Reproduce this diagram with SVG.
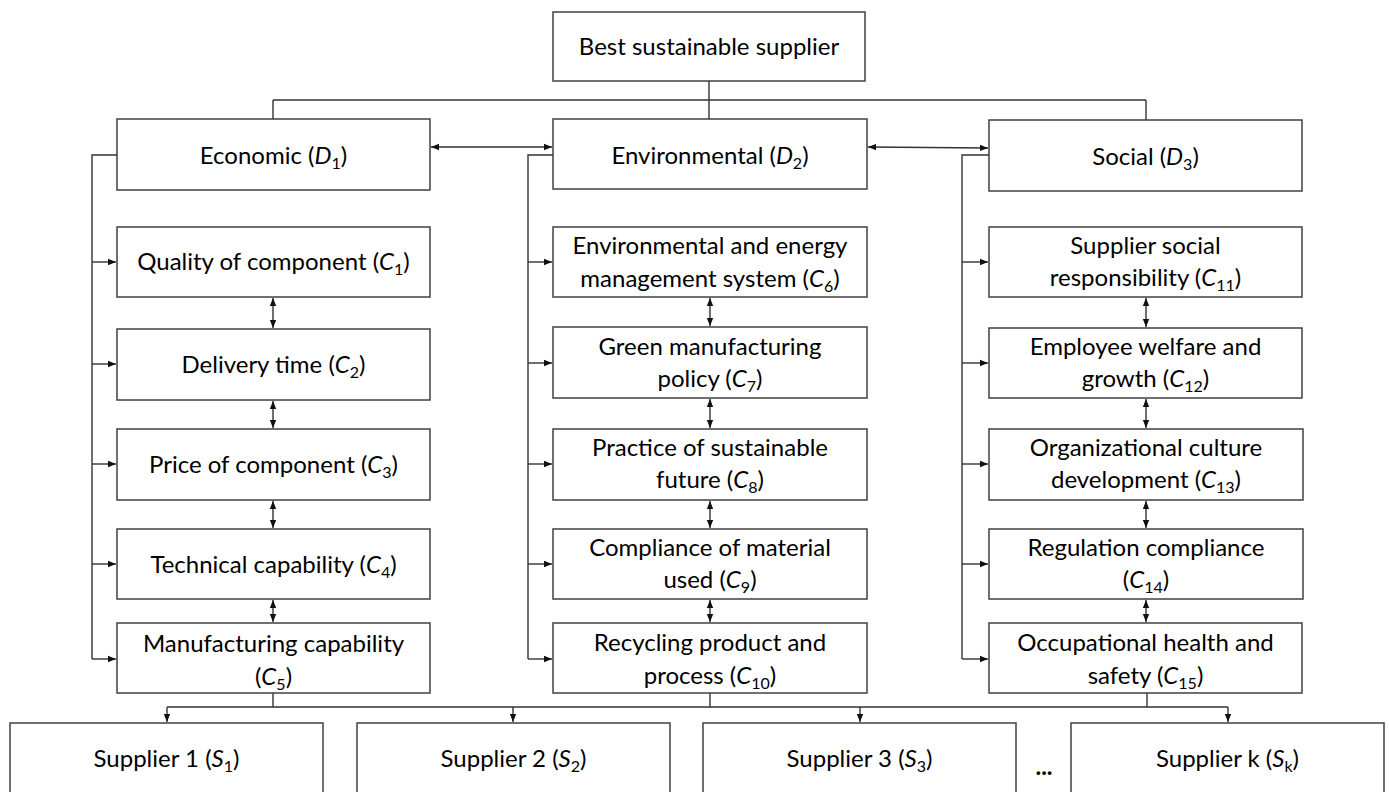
<svg xmlns="http://www.w3.org/2000/svg" width="1389" height="792" viewBox="0 0 1389 792">
<style>
.box{fill:#fff;stroke:#404040;stroke-width:1.5}
.t{font-family:Lato,"Open Sans","Liberation Sans",sans-serif;font-size:24px;fill:#000;text-anchor:middle}
.i{font-style:italic}
.s{font-size:16px}
.c{fill:none;stroke:#333;stroke-width:1.4}
.a{fill:none;stroke:#333;stroke-width:1.4;marker-end:url(#ah)}
.d{fill:none;stroke:#333;stroke-width:1.4;marker-start:url(#ah);marker-end:url(#ah)}
</style>
<defs>
<marker id="ah" viewBox="0 0 8 8" refX="8" refY="4" markerWidth="8" markerHeight="8" markerUnits="userSpaceOnUse" orient="auto-start-reverse">
<path d="M0,0.8 L8,4 L0,7.2 Z" fill="#111"/>
</marker>
</defs>
<rect width="1389" height="792" fill="#fff"/>

<g id="connectors">
<path class="c" d="M709,81 V100 M273,100 H1146 M273,100 V119 M709,100 V119 M1146,100 V120"/>
<line class="d" x1="431" y1="147" x2="552" y2="147"/>
<line class="d" x1="868" y1="147" x2="988" y2="148"/>
<path class="c" d="M117,155 H92 V659"/>
<path class="c" d="M553,155 H528 V659"/>
<path class="c" d="M989,155 H962 V659"/>
<line class="a" x1="92" y1="262" x2="116" y2="262"/>
<line class="a" x1="92" y1="364" x2="116" y2="364"/>
<line class="a" x1="92" y1="464" x2="116" y2="464"/>
<line class="a" x1="92" y1="564" x2="116" y2="564"/>
<line class="a" x1="92" y1="659" x2="116" y2="659"/>
<line class="a" x1="528" y1="262" x2="552" y2="262"/>
<line class="a" x1="528" y1="363" x2="552" y2="363"/>
<line class="a" x1="528" y1="464" x2="552" y2="464"/>
<line class="a" x1="528" y1="564" x2="552" y2="564"/>
<line class="a" x1="528" y1="659" x2="552" y2="659"/>
<line class="a" x1="962" y1="262" x2="988" y2="262"/>
<line class="a" x1="962" y1="363" x2="988" y2="363"/>
<line class="a" x1="962" y1="464" x2="988" y2="464"/>
<line class="a" x1="962" y1="564" x2="988" y2="564"/>
<line class="a" x1="962" y1="659" x2="988" y2="659"/>
<line class="d" x1="273" y1="298" x2="273" y2="328"/>
<line class="d" x1="273" y1="401" x2="273" y2="428"/>
<line class="d" x1="273" y1="501" x2="273" y2="528"/>
<line class="d" x1="273" y1="600" x2="273" y2="622"/>
<line class="d" x1="710" y1="298" x2="710" y2="326"/>
<line class="d" x1="710" y1="399" x2="710" y2="428"/>
<line class="d" x1="710" y1="501" x2="710" y2="528"/>
<line class="d" x1="710" y1="600" x2="710" y2="622"/>
<line class="d" x1="1146" y1="298" x2="1146" y2="327"/>
<line class="d" x1="1146" y1="399" x2="1146" y2="428"/>
<line class="d" x1="1146" y1="501" x2="1146" y2="528"/>
<line class="d" x1="1146" y1="600" x2="1146" y2="622"/>
<path class="c" d="M273,693 V707 M710,693 V707 M1147,693 V707 M167,707 H1228"/>
<line class="a" x1="167" y1="707" x2="167" y2="722"/>
<line class="a" x1="513" y1="707" x2="513" y2="722"/>
<line class="a" x1="860" y1="707" x2="860" y2="722"/>
<line class="a" x1="1228" y1="707" x2="1228" y2="722"/>
</g>

<g id="goal">
<rect class="box" x="553" y="12" width="312" height="69"/>
<text class="t" x="709" y="55">Best sustainable supplier</text>
</g>

<g id="D1">
<rect class="box" x="117" y="119" width="313" height="71"/>
<text class="t" x="273.5" y="164">Economic (<tspan class="i">D</tspan><tspan class="s" dy="5">1</tspan><tspan dy="-5">)</tspan></text>
</g>
<g id="D2">
<rect class="box" x="553" y="119" width="314" height="70"/>
<text class="t" x="710" y="164">Environmental (<tspan class="i">D</tspan><tspan class="s" dy="5">2</tspan><tspan dy="-5">)</tspan></text>
</g>
<g id="D3">
<rect class="box" x="989" y="120" width="313" height="71"/>
<text class="t" x="1145.5" y="165">Social (<tspan class="i">D</tspan><tspan class="s" dy="5">3</tspan><tspan dy="-5">)</tspan></text>
</g>

<g id="C1">
<rect class="box" x="117" y="227" width="313" height="70"/>
<text class="t" x="273.5" y="270">Quality of component (<tspan class="i">C</tspan><tspan class="s" dy="5">1</tspan><tspan dy="-5">)</tspan></text>
</g>
<g id="C2">
<rect class="box" x="117" y="329" width="313" height="71"/>
<text class="t" x="273.5" y="373">Delivery time (<tspan class="i">C</tspan><tspan class="s" dy="5">2</tspan><tspan dy="-5">)</tspan></text>
</g>
<g id="C3">
<rect class="box" x="117" y="429" width="313" height="71"/>
<text class="t" x="273.5" y="473">Price of component (<tspan class="i">C</tspan><tspan class="s" dy="5">3</tspan><tspan dy="-5">)</tspan></text>
</g>
<g id="C4">
<rect class="box" x="117" y="529" width="313" height="70"/>
<text class="t" x="273.5" y="573">Technical capability (<tspan class="i">C</tspan><tspan class="s" dy="5">4</tspan><tspan dy="-5">)</tspan></text>
</g>
<g id="C5">
<rect class="box" x="117" y="623" width="313" height="70"/>
<text class="t" x="273.5" y="652">Manufacturing capability</text>
<text class="t" x="273.5" y="685">(<tspan class="i">C</tspan><tspan class="s" dy="5">5</tspan><tspan dy="-5">)</tspan></text>
</g>

<g id="C6">
<rect class="box" x="553" y="227" width="314" height="70"/>
<text class="t" x="710" y="254">Environmental and energy</text>
<text class="t" x="710" y="287">management system (<tspan class="i">C</tspan><tspan class="s" dy="5">6</tspan><tspan dy="-5">)</tspan></text>
</g>
<g id="C7">
<rect class="box" x="553" y="327" width="314" height="71"/>
<text class="t" x="710" y="355">Green manufacturing</text>
<text class="t" x="710" y="387">policy (<tspan class="i">C</tspan><tspan class="s" dy="5">7</tspan><tspan dy="-5">)</tspan></text>
</g>
<g id="C8">
<rect class="box" x="553" y="429" width="314" height="71"/>
<text class="t" x="710" y="456">Practice of sustainable</text>
<text class="t" x="710" y="488">future (<tspan class="i">C</tspan><tspan class="s" dy="5">8</tspan><tspan dy="-5">)</tspan></text>
</g>
<g id="C9">
<rect class="box" x="553" y="529" width="314" height="70"/>
<text class="t" x="710" y="556">Compliance of material</text>
<text class="t" x="710" y="588">used (<tspan class="i">C</tspan><tspan class="s" dy="5">9</tspan><tspan dy="-5">)</tspan></text>
</g>
<g id="C10">
<rect class="box" x="553" y="623" width="314" height="70"/>
<text class="t" x="710" y="651">Recycling product and</text>
<text class="t" x="710" y="684">process (<tspan class="i">C</tspan><tspan class="s" dy="5">10</tspan><tspan dy="-5">)</tspan></text>
</g>

<g id="C11">
<rect class="box" x="989" y="227" width="313" height="70"/>
<text class="t" x="1145.5" y="254">Supplier social</text>
<text class="t" x="1145.5" y="286">responsibility (<tspan class="i">C</tspan><tspan class="s" dy="5">11</tspan><tspan dy="-5">)</tspan></text>
</g>
<g id="C12">
<rect class="box" x="989" y="328" width="313" height="70"/>
<text class="t" x="1145.5" y="355">Employee welfare and</text>
<text class="t" x="1145.5" y="387">growth (<tspan class="i">C</tspan><tspan class="s" dy="5">12</tspan><tspan dy="-5">)</tspan></text>
</g>
<g id="C13">
<rect class="box" x="989" y="429" width="314" height="71"/>
<text class="t" x="1146" y="456">Organizational culture</text>
<text class="t" x="1146" y="488">development (<tspan class="i">C</tspan><tspan class="s" dy="5">13</tspan><tspan dy="-5">)</tspan></text>
</g>
<g id="C14">
<rect class="box" x="989" y="529" width="314" height="70"/>
<text class="t" x="1146" y="556">Regulation compliance</text>
<text class="t" x="1146" y="588">(<tspan class="i">C</tspan><tspan class="s" dy="5">14</tspan><tspan dy="-5">)</tspan></text>
</g>
<g id="C15">
<rect class="box" x="989" y="623" width="313" height="70"/>
<text class="t" x="1145.5" y="651">Occupational health and</text>
<text class="t" x="1145.5" y="684">safety (<tspan class="i">C</tspan><tspan class="s" dy="5">15</tspan><tspan dy="-5">)</tspan></text>
</g>

<g id="S1">
<rect class="box" x="10" y="723" width="313" height="90"/>
<text class="t" x="166.5" y="767">Supplier 1 (<tspan class="i">S</tspan><tspan class="s" dy="5">1</tspan><tspan dy="-5">)</tspan></text>
</g>
<g id="S2">
<rect class="box" x="357" y="723" width="313" height="90"/>
<text class="t" x="513.5" y="767">Supplier 2 (<tspan class="i">S</tspan><tspan class="s" dy="5">2</tspan><tspan dy="-5">)</tspan></text>
</g>
<g id="S3">
<rect class="box" x="703" y="723" width="313" height="90"/>
<text class="t" x="859.5" y="767">Supplier 3 (<tspan class="i">S</tspan><tspan class="s" dy="5">3</tspan><tspan dy="-5">)</tspan></text>
</g>
<g id="ellipsis">
<text class="t" x="1044" y="775" font-weight="bold">...</text>
</g>
<g id="Sk">
<rect class="box" x="1071" y="723" width="313" height="90"/>
<text class="t" x="1227.5" y="767">Supplier k (<tspan class="i">S</tspan><tspan class="s" dy="5">k</tspan><tspan dy="-5">)</tspan></text>
</g>
</svg>
